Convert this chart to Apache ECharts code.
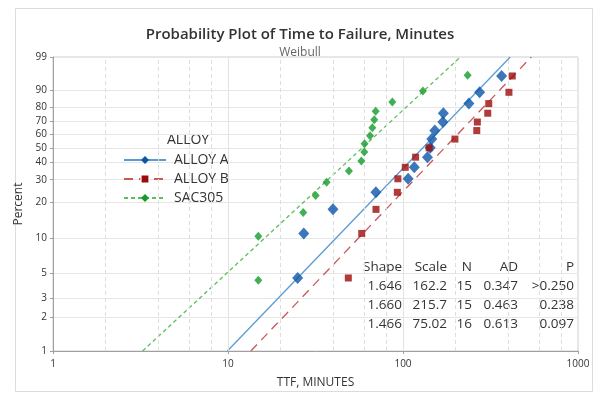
<!DOCTYPE html>
<html>
<head>
<meta charset="utf-8">
<script src="https://cdn.jsdelivr.net/npm/echarts@6/dist/echarts.min.js"></script>
<style>html,body{margin:0;padding:0;background:#fff;}#c{width:600px;height:397px;}</style>
</head>
<body>
<div id="c"></div>
<script>
// ---- data ----
const yTickPercents = [1, 2, 3, 5, 10, 20, 30, 40, 50, 60, 70, 80, 90, 99];
const xMinorGrid = [2, 4, 6, 8, 20, 40, 60, 80, 200, 400, 600, 800];
const xMajorGrid = [10, 100];

const alloyATime = [25.0, 27.1, 39.8, 70.0, 107, 116, 138, 143, 146, 152, 169, 170, 238, 274, 366];
const alloyAPct  = [4.5, 11.0, 17.5, 24.0, 30.5, 37.0, 43.5, 50.0, 56.5, 63.0, 69.5, 76.0, 82.5, 89.0, 95.5];
const alloyBTime = [48.7, 58.1, 70.1, 92.8, 93.5, 103, 118, 141, 198, 264, 266, 305, 309, 403, 421];
const alloyBPct  = [4.5, 11.0, 17.5, 24.0, 30.5, 37.0, 43.5, 50.0, 56.5, 63.0, 69.5, 76.0, 82.5, 89.0, 95.5];
const sacTime = [14.9, 14.9, 26.9, 31.7, 36.6, 49.1, 57.8, 60.1, 60.3, 64.8, 66.8, 68.5, 69.8, 86.9, 130, 234];
const sacPct  = [4.3, 10.4, 16.5, 22.6, 28.7, 34.8, 40.9, 47.0, 53.0, 59.1, 65.2, 71.3, 77.4, 83.5, 89.6, 95.7];

// fitted line endpoints [time, percent]
const fitA   = [[9.92, 1], [410, 99]];
const fitB   = [[13.5, 1], [541, 99]];
const fitSAC = [[3.25, 1], [213, 99]];

const tableHeader = ['Shape', 'Scale', 'N', 'AD', 'P'];
const tableShape = ['1.646', '1.660', '1.466'];
const tableScale = ['162.2', '215.7', '75.02'];
const tableN     = ['15', '15', '16'];
const tableAD    = ['0.347', '0.463', '0.613'];
const tableP     = ['>0.250', '0.238', '0.097'];

const seriesNames = ['ALLOY A', 'ALLOY B', 'SAC305'];
// ---------------------------------------

const wb = p => Math.log(-Math.log(1 - p / 100));
const yMin = wb(1), yMax = wb(99);
const yTickVals = yTickPercents.map(wb);

function pts(times, pcts) { return times.map((t, i) => [t, wb(pcts[i])]); }
function fit(arr) { return arr.map(d => [d[0], wb(d[1])]); }

const FONT = '"Open Sans", "Noto Sans", sans-serif';
const TXT = '#333';

const colA = '#0b55a8', lineA = '#5b9bd5';
const colB = '#9b0a0a', lineB = '#c9585a';
const colS = '#139a2a', lineS = '#5cbf5c';

const chart = echarts.init(document.getElementById('c'), null, {renderer: 'canvas'});

// table graphics
const colRight = [402, 447, 472, 518, 574];
const rowY = [267, 286, 305, 324];
const cols = [tableShape, tableScale, tableN, tableAD, tableP];
const tableEls = [];
tableHeader.forEach((h, ci) => {
  tableEls.push({type: 'text', x: colRight[ci], y: rowY[0], style: {text: h, textAlign: 'right', textVerticalAlign: 'middle', font: '13.5px ' + FONT, fill: TXT}});
  cols[ci].forEach((v, ri) => {
    tableEls.push({type: 'text', x: colRight[ci], y: rowY[ri + 1], style: {text: v, textAlign: 'right', textVerticalAlign: 'middle', font: '13.5px ' + FONT, fill: TXT}});
  });
});

const option = {
  animation: false,
  backgroundColor: '#fff',
  title: {
    text: 'Probability Plot of Time to Failure, Minutes',
    subtext: 'Weibull',
    left: 'center',
    top: 22,
    itemGap: 5,
    textStyle: {fontFamily: FONT, fontSize: 15, fontWeight: 600, color: '#333'},
    subtextStyle: {fontFamily: FONT, fontSize: 12, color: '#666'}
  },
  grid: {left: 53, right: 22, top: 57, bottom: 46, show: true, borderColor: '#cfcfcf', borderWidth: 1},
  legend: {
    orient: 'vertical', left: 118, top: 148,
    itemWidth: 42, itemHeight: 10, itemGap: 5,
    data: [
      {name: seriesNames[0]},
      {name: seriesNames[1], itemStyle: {borderColor: '#fff', borderWidth: 1.2}},
      {name: seriesNames[2]}
    ],
    textStyle: {fontFamily: FONT, fontSize: 14, color: TXT, padding: [0, 0, 0, 3]}
  },
  graphic: [
    {type: 'rect', shape: {x: 15.5, y: 8.5, width: 577, height: 383}, style: {fill: 'none', stroke: '#dcdcdc', lineWidth: 1}, silent: true},
    {type: 'text', x: 167, y: 140, style: {text: 'ALLOY', textVerticalAlign: 'middle', font: '14px ' + FONT, fill: TXT}},
    ...tableEls
  ],
  xAxis: {
    type: 'log', logBase: 10, min: 1, max: 1000,
    name: 'TTF, MINUTES', nameLocation: 'middle', nameGap: 26,
    nameTextStyle: {fontFamily: FONT, fontSize: 12, color: TXT},
    axisLine: {onZero: false, lineStyle: {color: '#a0a0a0'}},
    axisTick: {show: true, length: 3, lineStyle: {color: '#a0a0a0'}},
    axisLabel: {fontFamily: FONT, fontSize: 10, color: TXT, margin: 8, formatter: v => String(Math.round(v))},
    splitLine: {show: false},
    minorTick: {show: false}, minorSplitLine: {show: false}
  },
  yAxis: {
    type: 'value', min: yMin, max: yMax,
    name: 'Percent', nameLocation: 'middle', nameGap: 25,
    nameTextStyle: {fontFamily: FONT, fontSize: 12, color: TXT},
    axisLine: {show: true, onZero: false, lineStyle: {color: '#a0a0a0'}},
    axisTick: {show: true, length: 3, customValues: yTickVals, lineStyle: {color: '#a0a0a0'}},
    axisLabel: {
      fontFamily: FONT, fontSize: 10, color: TXT, margin: 6,
      customValues: yTickVals,
      formatter: v => {
        let best = 0, bd = Infinity;
        yTickVals.forEach((t, i) => { const d = Math.abs(t - v); if (d < bd) { bd = d; best = i; } });
        return String(yTickPercents[best]);
      }
    },
    splitLine: {show: true, lineStyle: {color: '#e6e6e6', width: 1}}
  },
  series: [
    {
      name: seriesNames[0], type: 'line', data: fit(fitA), symbol: 'diamond', showSymbol: false,
      lineStyle: {color: lineA, width: 1.3, type: 'solid'}, itemStyle: {color: colA}, z: 3, silent: true,
      markLine: {
        silent: true, symbol: 'none', label: {show: false}, animation: false,
        lineStyle: {color: '#dedede', type: [4, 3], width: 1},
        data: xMinorGrid.map(v => ({xAxis: v}))
      }
    },
    {
      name: seriesNames[1], type: 'line', data: fit(fitB), symbol: 'rect', showSymbol: false,
      lineStyle: {color: lineB, width: 1.3, type: [9, 6]}, itemStyle: {color: colB}, z: 3, silent: true,
      markLine: {
        silent: true, symbol: 'none', label: {show: false}, animation: false,
        lineStyle: {color: '#e2e2e2', type: 'solid', width: 1},
        data: xMajorGrid.map(v => ({xAxis: v}))
      }
    },
    {
      name: seriesNames[2], type: 'line', data: fit(fitSAC), symbol: 'diamond', showSymbol: false,
      lineStyle: {color: lineS, width: 1.3, type: [4, 3]}, itemStyle: {color: colS}, z: 3, silent: true
    },
    {name: seriesNames[0], type: 'scatter', data: pts(alloyATime, alloyAPct), symbol: 'diamond', symbolSize: [11, 12], itemStyle: {color: colA}, z: 5},
    {name: seriesNames[1], type: 'scatter', data: pts(alloyBTime, alloyBPct), symbol: 'rect', symbolSize: 7, itemStyle: {color: colB}, z: 5},
    {name: seriesNames[2], type: 'scatter', data: pts(sacTime, sacPct), symbol: 'diamond', symbolSize: [8, 9], itemStyle: {color: colS}, z: 5}
  ]
};
chart.setOption(option);
</script>
</body>
</html>
